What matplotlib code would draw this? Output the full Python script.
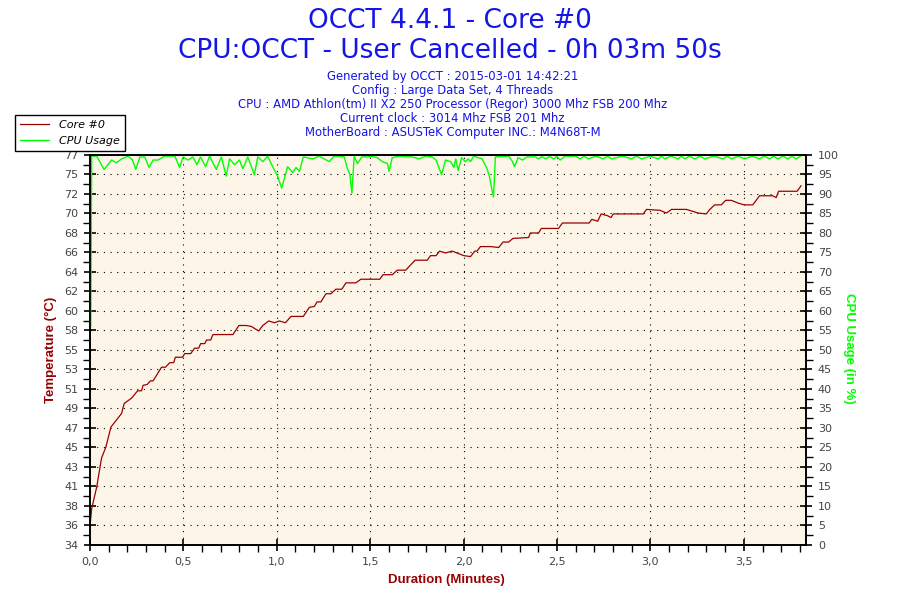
import matplotlib
matplotlib.use('Agg')
import matplotlib.pyplot as plt
import numpy as np
from matplotlib.ticker import FuncFormatter, MultipleLocator, FixedLocator

# header texts
title_1 = 'OCCT 4.4.1 - Core #0'
title_2 = 'CPU:OCCT - User Cancelled - 0h 03m 50s'
info_lines = [
    'Generated by OCCT : 2015-03-01 14:42:21',
    'Config : Large Data Set, 4 Threads',
    'CPU : AMD Athlon(tm) II X2 250 Processor (Regor) 3000 Mhz FSB 200 Mhz',
    'Current clock : 3014 Mhz FSB 201 Mhz',
    'MotherBoard : ASUSTeK Computer INC.: M4N68T-M',
]

# Core #0 temperature (minutes, degC)
temp_time = [0.000, 0.009, 0.036, 0.048, 0.062, 0.085, 0.112, 0.169, 0.183, 0.223,
             0.255, 0.276, 0.284, 0.306, 0.324, 0.338, 0.383, 0.404, 0.427, 0.448,
             0.457, 0.495, 0.507, 0.539, 0.560, 0.582, 0.592, 0.614, 0.624, 0.646,
             0.658, 0.765, 0.797, 0.836, 0.863, 0.903, 0.925, 0.957, 0.987, 1.014,
             1.046, 1.076, 1.142, 1.174, 1.201, 1.215, 1.236, 1.263, 1.290, 1.316,
             1.348, 1.370, 1.423, 1.450, 1.551, 1.569, 1.618, 1.645, 1.690, 1.740,
             1.805, 1.823, 1.853, 1.871, 1.903, 1.939, 2.001, 2.037, 2.060, 2.072,
             2.090, 2.144, 2.188, 2.211, 2.241, 2.264, 2.348, 2.357, 2.401, 2.416,
             2.508, 2.529, 2.672, 2.686, 2.718, 2.736, 2.771, 2.789, 2.801, 2.962,
             2.979, 3.051, 3.086, 3.113, 3.193, 3.255, 3.299, 3.318, 3.344, 3.379,
             3.403, 3.433, 3.469, 3.501, 3.548, 3.584, 3.655, 3.673, 3.686, 3.785,
             3.806]
temp_vals = [36.1, 38.0, 40.4, 41.9, 43.6, 44.8, 47.0, 48.5, 49.6, 50.2,
             51.0, 51.0, 51.6, 51.7, 52.1, 52.1, 53.6, 53.6, 54.1, 54.1,
             54.7, 54.7, 55.1, 55.1, 55.7, 55.7, 56.2, 56.2, 56.6, 56.6,
             57.2, 57.2, 58.2, 58.2, 58.1, 57.6, 58.2, 58.7, 58.5, 58.7,
             58.5, 59.2, 59.2, 60.2, 60.3, 60.8, 60.8, 61.7, 61.7, 62.2,
             62.2, 62.9, 62.9, 63.3, 63.3, 63.8, 63.8, 64.3, 64.3, 65.4,
             65.4, 65.9, 65.9, 66.4, 66.2, 66.4, 65.9, 65.8, 66.4, 66.4,
             66.9, 66.9, 66.8, 67.4, 67.4, 67.8, 67.9, 68.4, 68.4, 68.9,
             68.9, 69.5, 69.5, 69.9, 69.7, 70.5, 70.3, 70.1, 70.5, 70.5,
             71.0, 70.9, 70.6, 71.0, 71.0, 70.6, 70.5, 71.0, 71.5, 71.5,
             72.0, 72.0, 71.7, 71.5, 71.5, 72.5, 72.5, 72.3, 73.0, 73.0,
             73.6]

# CPU usage (minutes, %)
cpu_time = [0.004, 0.006, 0.009, 0.016, 0.036, 0.075, 0.116, 0.142, 0.169, 0.204,
            0.228, 0.245, 0.267, 0.293, 0.316, 0.338, 0.364, 0.400, 0.454, 0.480,
            0.498, 0.525, 0.551, 0.573, 0.591, 0.619, 0.640, 0.676, 0.703, 0.729,
            0.747, 0.774, 0.800, 0.818, 0.845, 0.880, 0.898, 0.925, 0.951, 0.978,
            1.005, 1.026, 1.058, 1.085, 1.103, 1.121, 1.142, 1.192, 1.227, 1.281,
            1.307, 1.334, 1.361, 1.378, 1.391, 1.402, 1.414, 1.432, 1.455, 1.485,
            1.509, 1.538, 1.565, 1.592, 1.601, 1.618, 1.654, 1.724, 1.761, 1.797,
            1.832, 1.852, 1.882, 1.903, 1.930, 1.948, 1.958, 1.971, 1.989, 2.010,
            2.024, 2.037, 2.054, 2.099, 2.125, 2.138, 2.150, 2.160, 2.170, 2.241,
            2.259, 2.273, 2.291, 2.316, 2.339, 2.384, 2.401, 2.420, 2.437, 2.460,
            2.481, 2.500, 2.517, 2.544, 2.600, 2.624, 2.645, 2.668, 2.710, 2.748,
            2.770, 2.792, 2.850, 2.899, 2.925, 2.953, 3.000, 3.042, 3.060, 3.077,
            3.110, 3.148, 3.165, 3.184, 3.210, 3.237, 3.265, 3.291, 3.340, 3.388,
            3.410, 3.433, 3.470, 3.504, 3.545, 3.584, 3.610, 3.638, 3.660, 3.682,
            3.710, 3.735, 3.758, 3.780, 3.805]
cpu_vals = [56.0, 75.0, 99.6, 99.7, 99.7, 96.3, 98.7, 98.0, 99.0, 99.7,
            98.7, 96.3, 99.5, 99.5, 96.8, 98.7, 98.7, 99.7, 99.7, 96.8,
            99.5, 98.7, 99.5, 97.5, 99.5, 97.0, 99.7, 96.3, 99.5, 94.6,
            99.0, 97.5, 98.7, 96.5, 99.5, 94.9, 99.5, 98.3, 99.7, 97.0,
            94.5, 91.5, 97.0, 95.5, 96.8, 95.8, 99.5, 99.0, 99.7, 98.3,
            99.7, 99.7, 99.5, 96.5, 95.0, 90.2, 99.7, 97.8, 99.5, 99.5,
            99.7, 99.3, 98.3, 97.8, 95.8, 99.3, 99.7, 99.5, 99.0, 99.7,
            99.5, 98.7, 95.0, 98.7, 98.3, 96.8, 99.0, 96.0, 99.3, 98.3,
            99.0, 98.3, 99.7, 99.0, 96.5, 94.5, 91.5, 89.2, 99.5, 99.7,
            98.5, 97.0, 99.3, 98.7, 99.5, 99.5, 99.0, 99.6, 99.0, 99.6,
            99.0, 99.6, 98.7, 99.7, 99.7, 99.0, 99.7, 99.0, 99.7, 99.0,
            99.7, 99.0, 99.7, 99.0, 99.7, 99.0, 99.7, 99.0, 99.7, 99.0,
            99.7, 99.0, 99.7, 99.0, 99.7, 99.0, 99.7, 99.0, 99.7, 99.0,
            99.7, 99.0, 99.7, 99.0, 99.7, 99.0, 99.7, 99.0, 99.7, 99.0,
            99.7, 99.0, 99.7, 99.0, 99.7]

# left axis labels (OCCT rounds them to whole degrees)
temp_tick_labels = ['34', '36', '38', '41', '43', '45', '47', '49', '51', '53', '55',
                    '58', '60', '62', '64', '66', '68', '70', '72', '75', '77']
temp_min, temp_max = 34, 77
duration = 3.833

blue = '#1515e6'
dark_red = '#990000'
green = '#00ff00'
tick_grey = '#444444'

fig = plt.figure(figsize=(9, 6), dpi=100)
ax = fig.add_axes([0.1, 0.0917, 0.7956, 0.65])
ax.set_facecolor('#fdf6e8')
ax2 = ax.twinx()

line_t, = ax.plot(temp_time, temp_vals, color=dark_red, lw=0.9, label='Core #0')
line_c, = ax2.plot(cpu_time, cpu_vals, color=green, lw=1.0, label='CPU Usage')

ax.set_xlim(0, duration)
ax.set_ylim(temp_min, temp_max)
ax2.set_ylim(0, 100)

ax.xaxis.set_major_locator(MultipleLocator(0.5))
ax.xaxis.set_minor_locator(MultipleLocator(0.1))
ax.xaxis.set_major_formatter(FuncFormatter(lambda v, p: ('%.1f' % v).replace('.', ',')))

temp_ticks = np.linspace(temp_min, temp_max, len(temp_tick_labels))
ax.yaxis.set_major_locator(FixedLocator(temp_ticks))
ax.set_yticklabels(temp_tick_labels)
ax.yaxis.set_minor_locator(FixedLocator((temp_ticks[:-1] + temp_ticks[1:]) / 2))

ax2.yaxis.set_major_locator(MultipleLocator(5))
ax2.yaxis.set_minor_locator(MultipleLocator(2.5))

ax.grid(True, which='major', color='black', linestyle=(0, (1, 5)), lw=0.8)

for a in (ax, ax2):
    for s in a.spines.values():
        s.set_color('black')
        s.set_linewidth(1.2)
ax.tick_params(which='major', direction='inout', length=9, width=1.2,
               labelsize=8, labelcolor=tick_grey, pad=4)
ax.tick_params(which='minor', direction='out', length=5, width=1)
ax2.tick_params(which='major', direction='inout', length=9, width=1.2,
                labelsize=8, labelcolor=tick_grey, pad=4)
ax2.tick_params(which='minor', direction='out', length=5, width=1)

# titles
fig.text(0.5, 0.965, title_1, ha='center', va='center', fontsize=19, color=blue)
fig.text(0.5, 0.915, title_2, ha='center', va='center', fontsize=19, color=blue)
for i, line in enumerate(info_lines):
    fig.text(0.503, 0.873 - i * 0.0233, line, ha='center', va='center',
             fontsize=8.4, color=blue)

# axis titles
fig.text(0.496, 0.033, 'Duration (Minutes)', ha='center', va='center',
         fontsize=9.5, fontweight='bold', color=dark_red, family='Liberation Sans')
fig.text(0.057, 0.417, 'Temperature (°C)', ha='center', va='center', rotation=90,
         fontsize=9.5, fontweight='bold', color=dark_red, family='Liberation Sans')
fig.text(0.943, 0.42, 'CPU Usage (in %)', ha='center', va='center', rotation=-90,
         fontsize=9.5, fontweight='bold', color=green, family='Liberation Sans')

leg = fig.legend(handles=[line_t, line_c], loc='upper left',
                 bbox_to_anchor=(0.017, 0.808), borderaxespad=0, fancybox=False,
                 framealpha=1, edgecolor='black', handlelength=2.6, handletextpad=0.9,
                 borderpad=0.45, labelspacing=0.55, prop={'size': 8, 'style': 'italic'})
leg.get_frame().set_linewidth(1.0)

fig.savefig('out.png', dpi=100)
